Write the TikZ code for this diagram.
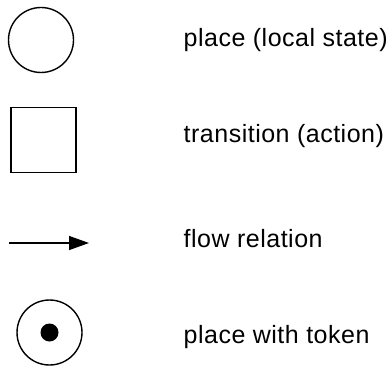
\documentclass[tikz,border=0pt]{standalone}
\usepackage{fontspec}
\setmainfont{Liberation Sans}[LetterSpace=2]
\usetikzlibrary{positioning,arrows.meta}

\begin{document}
\begin{tikzpicture}[x=1pt, y=1pt, line width=1.4pt,
    place/.style={draw, circle, minimum size=65pt, inner sep=0pt},
    trans/.style={draw, rectangle, minimum size=65pt, inner sep=0pt},
    token/.style={fill, circle, minimum size=18pt, inner sep=0pt},
    legend/.style={anchor=base west, inner sep=0pt, font=\fontsize{25}{30}\selectfont}]
 
            \useasboundingbox (0,0) rectangle (390,370);
            \node[place] (p) at (41,330) {};
            \node[trans] (t) at (43.5,230) {};
            \coordinate (fa) at (9,127);
            \coordinate (fb) at (89,127);
            \draw[-{Triangle[length=20pt,width=14pt]}] (fa) -- (fb);
            \node[place] (pt) at (49.5,37.5) {};
            \node[token] (tk) at (pt) {};

            \node[legend] (lp) at (183,323) {place (local state)};
            \node[legend] (lt) at (183,228) {transition (action)};
            \node[legend] (lf) at (183,123) {flow relation};
            \node[legend] (lk) at (183,27) {place with token};
\end{tikzpicture}
\end{document}
